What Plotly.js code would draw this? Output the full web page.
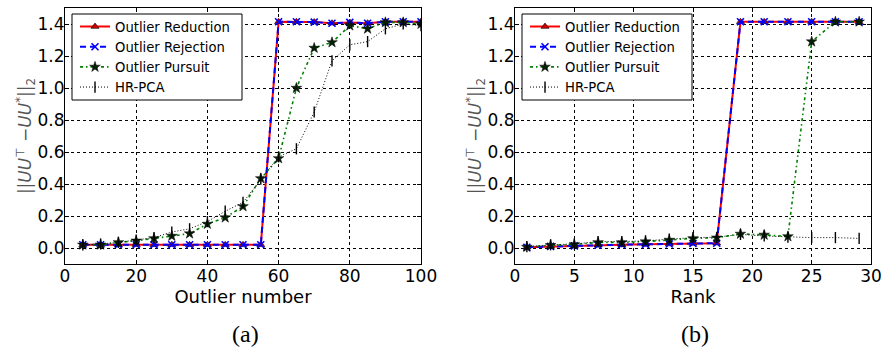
<!DOCTYPE html>
<html>
<head>
<meta charset="utf-8">
<script src="https://cdn.plot.ly/plotly-3.0.1.min.js"></script>
<style>html,body{margin:0;padding:0;background:#fff;}#chart{width:883px;height:347px;}</style>
</head>
<body>
<div id="chart"></div>
<script>
// ---- Data (a): error vs. outlier number ----
const outlierNumber = [5,10,15,20,25,30,35,40,45,50,55,60,65,70,75,80,85,90,95,100];
const reductionA = [0.02,0.02,0.02,0.02,0.02,0.02,0.02,0.02,0.02,0.02,0.02,1.414,1.414,1.412,1.405,1.41,1.405,1.414,1.414,1.414];
const rejectionA = [0.02,0.02,0.02,0.02,0.02,0.02,0.02,0.02,0.02,0.02,0.02,1.414,1.414,1.412,1.405,1.41,1.405,1.414,1.414,1.414];
const pursuitA   = [0.02,0.02,0.035,0.045,0.06,0.075,0.09,0.15,0.19,0.26,0.435,0.56,1.0,1.25,1.285,1.39,1.37,1.41,1.41,1.40];
const hrpcaA     = [0.02,0.025,0.035,0.05,0.065,0.10,0.12,0.165,0.23,0.285,0.43,0.57,0.62,0.85,1.17,1.27,1.29,1.37,1.40,1.39];

// ---- Data (b): error vs. rank ----
const rank = [1,3,5,7,9,11,13,15,17,19,21,23,25,27,29];
const reductionB = [0.005,0.01,0.013,0.017,0.021,0.023,0.025,0.028,0.03,1.414,1.414,1.414,1.414,1.414,1.414];
const rejectionB = [0.005,0.01,0.013,0.017,0.021,0.023,0.025,0.028,0.03,1.414,1.414,1.414,1.414,1.414,1.414];
const pursuitB   = [0.006,0.017,0.022,0.035,0.035,0.04,0.05,0.06,0.064,0.088,0.082,0.072,1.29,1.414,1.414];
const hrpcaB     = [0.008,0.02,0.025,0.04,0.04,0.045,0.055,0.065,0.067,0.085,0.075,0.068,0.065,0.065,0.06];

const names = ['Outlier Reduction','Outlier Rejection','Outlier Pursuit','HR-PCA'];
const yTicks = [0.0,0.2,0.4,0.6,0.8,1.0,1.2,1.4];
const xTicksA = [0,20,40,60,80,100];
const xTicksB = [0,5,10,15,20,25,30];

const W = 883, H = 347;
const FONT = 'DejaVu Sans, sans-serif';

function styles(i){
  return [
    {mode:'lines+markers', line:{color:'#ff0000', width:2},
     marker:{symbol:'triangle-up', size:7, color:'#cc0000', line:{color:'#000', width:0.6}}},
    {mode:'lines+markers', line:{color:'#0000ff', width:2, dash:'6px,4px'},
     marker:{symbol:'x-thin-open', size:7, color:'#0000ff', line:{color:'#0000ff', width:1.6}}},
    {mode:'lines+markers', line:{color:'#008000', width:1.6, dash:'3px,3px,1.5px,3px'},
     marker:{symbol:'star', size:8, color:'#062006', line:{color:'#000', width:0.5}}},
    {mode:'lines+markers', line:{color:'#000000', width:1, dash:'1px,2px'},
     marker:{symbol:'line-ns-open', size:8, color:'#000', line:{color:'#000', width:1.4}}}
  ][i];
}

const setsA = [reductionA, rejectionA, pursuitA, hrpcaA];
const setsB = [reductionB, rejectionB, pursuitB, hrpcaB];
const traces = [];
setsA.forEach((ys,i)=>traces.push(Object.assign({type:'scatter', x:outlierNumber, y:ys, name:names[i],
  xaxis:'x', yaxis:'y', legend:'legend'}, styles(i))));
setsB.forEach((ys,i)=>traces.push(Object.assign({type:'scatter', x:rank, y:ys, name:names[i],
  xaxis:'x2', yaxis:'y2', legend:'legend2'}, styles(i))));

const yTitle = '||<i>UU</i><sup>⊤</sup> −<i>UU</i><sup>*</sup>||<sub>2</sub>';

function xax(domain, range, ticks, title){
  return {domain:domain, range:range, tickvals:ticks, ticks:'inside', ticklen:4, tickcolor:'#000',
    showline:true, linecolor:'#000', linewidth:1, mirror:'ticks', showgrid:true, gridcolor:'#000',
    griddash:'dot', gridwidth:1, zeroline:false, tickfont:{family:FONT, size:17, color:'#000'},
    ticklabelstandoff:-3,
    title:{text:title, font:{family:FONT, size:18, color:'#000'}, standoff:4}};
}
function yax(anchor){
  return {domain:[1-264/H, 1-8/H], range:[-0.1,1.5], tickvals:yTicks, tickformat:'.1f', anchor:anchor,
    ticks:'inside', ticklen:4, tickcolor:'#000', showline:true, linecolor:'#000', linewidth:1,
    mirror:'ticks', showgrid:true, gridcolor:'#000', griddash:'dot', gridwidth:1, zeroline:false,
    tickfont:{family:FONT, size:17, color:'#000'}, ticklabelstandoff:-4,
    title:{text:yTitle, font:{family:FONT, size:17, color:'#555'}, standoff:1}};
}
function leg(x){
  return {x:x, y:1-11.5/H, xanchor:'left', yanchor:'top', xref:'paper', yref:'paper',
    bgcolor:'rgba(0,0,0,0)', borderwidth:0, font:{family:FONT, size:13.2, color:'#000'},
    tracegroupgap:0, itemwidth:30};
}
function legBox(x0, x1){
  return {type:'rect', xref:'paper', yref:'paper', x0:x0/W, x1:x1/W, y0:1-100/H, y1:1-14/H,
    fillcolor:'#fff', line:{color:'#000', width:1}, layer:'above'};
}

const layout = {
  width:W, height:H, margin:{l:0,r:0,t:0,b:0}, paper_bgcolor:'#fff', plot_bgcolor:'#fff',
  showlegend:true,
  xaxis: Object.assign(xax([65/W, 421/W], [0,100], xTicksA, 'Outlier number'), {anchor:'y'}),
  yaxis: yax('x'),
  xaxis2: Object.assign(xax([515/W, 871/W], [0,30], xTicksB, 'Rank'), {anchor:'y2'}),
  yaxis2: yax('x2'),
  legend: leg(75/W),
  legend2: leg(525/W),
  shapes:[legBox(72,242), legBox(522,692)],
  annotations:[
    {text:'(a)', x:246/W, y:1-334/H, xref:'paper', yref:'paper', xanchor:'center', yanchor:'middle', showarrow:false,
     font:{family:'Liberation Serif, Times New Roman, serif', size:24, color:'#000'}},
    {text:'(b)', x:695/W, y:1-334/H, xref:'paper', yref:'paper', xanchor:'center', yanchor:'middle', showarrow:false,
     font:{family:'Liberation Serif, Times New Roman, serif', size:24, color:'#000'}}
  ]
};

Plotly.newPlot('chart', traces, layout, {staticPlot:true, displayModeBar:false});
</script>
</body>
</html>
